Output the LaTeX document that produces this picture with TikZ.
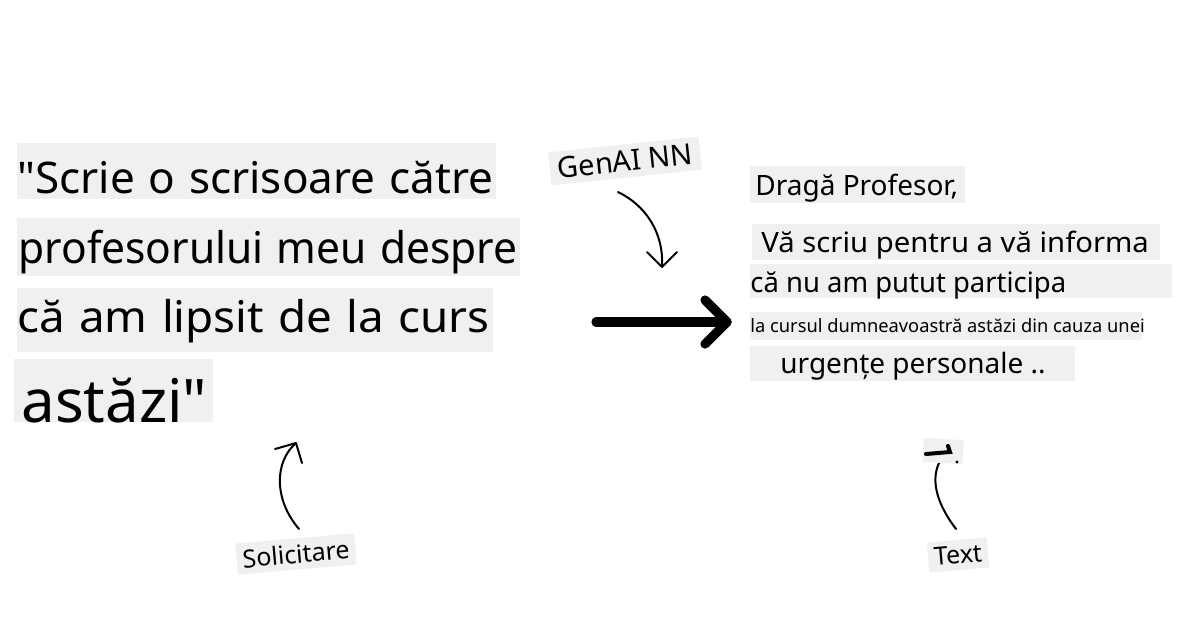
\documentclass[tikz,border=0pt]{standalone}
\usepackage{fontspec}
\setmainfont{Noto Sans}
\newfontfamily\leftfont{Noto Sans}[WordSpace=1.2]
\definecolor{boxgray}{RGB}{240,240,240}
\begin{document}
\begin{tikzpicture}[x=0.5pt,y=-0.5pt,
  bigtxt/.style={anchor=base west,inner sep=0pt,font=\leftfont\fontsize{21.8}{24}\selectfont},
  hugetxt/.style={anchor=base west,inner sep=0pt,font=\leftfont\fontsize{30}{34}\selectfont},
  midtxt/.style={anchor=base west,inner sep=0pt,font=\fontsize{14}{16}\selectfont},
  smalltxt/.style={anchor=base west,inner sep=0pt,font=\fontsize{9.15}{10}\selectfont},
  lbl/.style={fill=boxgray,inner xsep=3pt,inner ysep=3pt,font=\fontsize{12.5}{14}\selectfont},
  thinarrow/.style={line width=1pt,line cap=round,line join=round},
  bigarrow/.style={line width=4.6pt,line cap=round,line join=round}]
\useasboundingbox (0,0) rectangle (1200,628);
% left prompt
\fill[boxgray] (17,143) rectangle (496,199);
\fill[boxgray] (17,218) rectangle (520,276);
\fill[boxgray] (17,288) rectangle (493,352);
\fill[boxgray] (14,359) rectangle (213,422);
\node[bigtxt,xscale=1.01] (p1) at (17,193) {\textquotedbl Scrie o scrisoare către};
\node[bigtxt,xscale=0.975] (p2) at (18,263) {profesorului meu despre};
\node[bigtxt,xscale=1.05] (p3) at (17,332) {că am lipsit de la curs};
\begin{scope}
\clip (14,359) rectangle (213,422);
\node[hugetxt] (p4) at (21,422) {astăzi\textquotedbl};
\end{scope}
% right output
\fill[boxgray] (750,166) rectangle (965,203);
\fill[boxgray] (752,224) rectangle (1160,260);
\fill[boxgray] (750,264) rectangle (1172,298);
\fill[boxgray] (750,312) rectangle (1142,340);
\fill[boxgray] (750,346) rectangle (1075,381);
\node[midtxt] (r1) at (755,195) {Dragă Profesor,};
\node[midtxt,xscale=1.045] (r2) at (761,252) {Vă scriu pentru a vă informa};
\node[midtxt,xscale=0.98] (r3) at (750,292) {că nu am putut participa};
\node[smalltxt] (r4) at (750,332) {la cursul dumneavoastră astăzi din cauza unei};
\node[midtxt] (r5) at (780,373) {urgențe personale ..};
% big arrow
\coordinate (a1) at (596,322);
\coordinate (a2) at (727,322);
\draw[bigarrow] (a1) -- (a2);
\draw[bigarrow] (705,300) -- (a2) -- (705,344);
% labels
\node[lbl,rotate=6,font=\fontsize{14.5}{16}\selectfont,inner xsep=4pt] (genai) at (625,161) {GenAI NN};
\node[lbl,rotate=5] (solic) at (296,554) {Solicitare};
\node[lbl,rotate=5] (textl) at (958,555) {Text};
% GenAI arrow
\coordinate (g1) at (618,192);
\coordinate (g2) at (662,267);
\draw[thinarrow] (g1) .. controls (645,205) and (664,232) .. (g2);
\draw[thinarrow] (647,252) -- (g2) -- (677,252);
% Solicitare arrow
\coordinate (s1) at (299,529);
\coordinate (s2) at (296,443);
\draw[thinarrow] (s1) .. controls (274,500) and (274,462) .. (s2);
\draw[thinarrow] (275,449) -- (s2) -- (302,463);
% Text arrow
\coordinate (t1) at (956,529);
\coordinate (t2) at (939,463);
\draw[thinarrow] (t1) .. controls (934,500) and (932,478) .. (t2);
% clipped fragment above the Text arrow
\node[fill=boxgray,rotate=-3,minimum width=20pt,minimum height=12pt,inner sep=0pt] (frag) at (943,451) {};
\draw[line width=2pt,line cap=round] (926,454) -- (950,452) -- (948,446);
\fill (957,462) circle (0.8pt);
\end{tikzpicture}
\end{document}
